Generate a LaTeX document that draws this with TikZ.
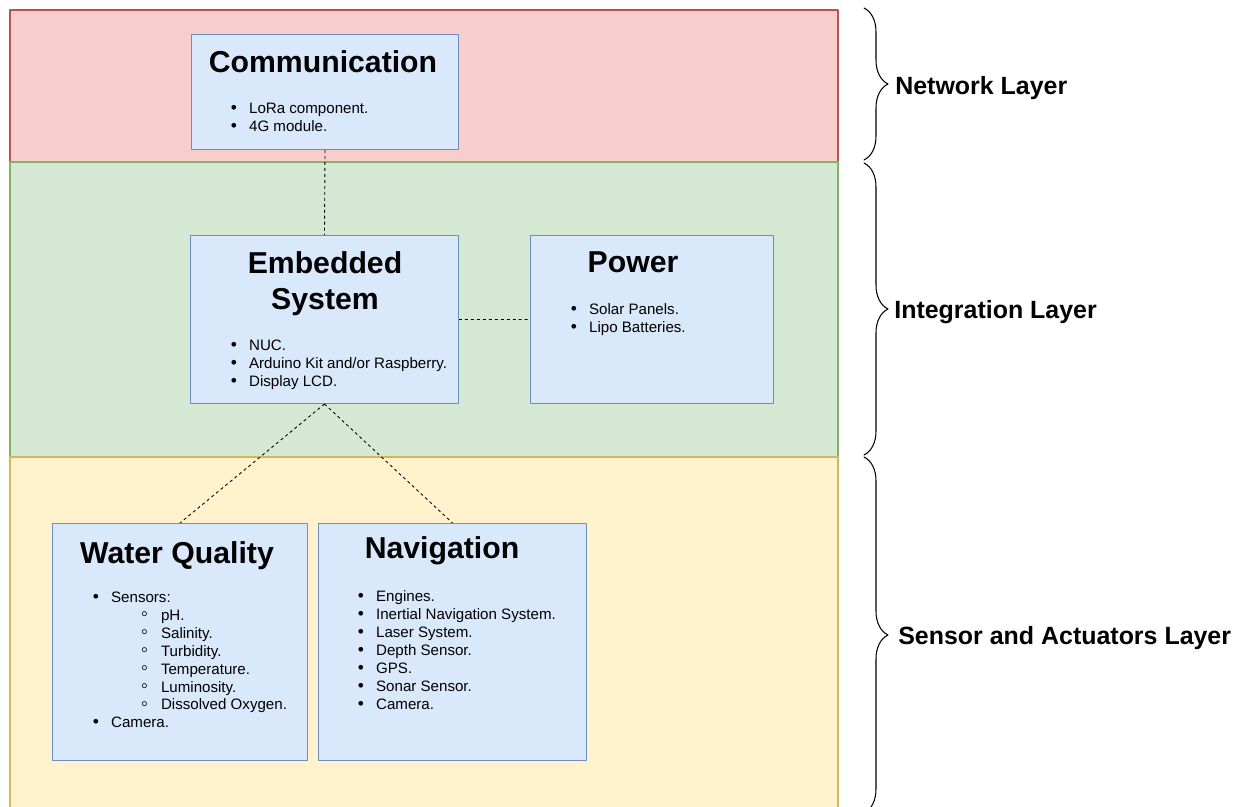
\documentclass[tikz,border=0pt]{standalone}
\usepackage{fontspec}
\setmainfont{Liberation Sans}
\usetikzlibrary{decorations.pathreplacing}
\definecolor{netfill}{HTML}{F8CECC}
\definecolor{netdraw}{HTML}{B85450}
\definecolor{intfill}{HTML}{D5E8D4}
\definecolor{intdraw}{HTML}{82B366}
\definecolor{senfill}{HTML}{FFF2CC}
\definecolor{sendraw}{HTML}{D6B656}
\definecolor{boxfill}{HTML}{DAE8FC}
\definecolor{boxdraw}{HTML}{6C8EBF}
\newcommand{\bul}[1]{\makebox[10.4pt][l]{\scalebox{1.15}{•}}#1}
\newcommand{\subbul}[1]{\hspace*{27.4pt}\makebox[11.4pt][l]{\raisebox{-0.35pt}{\scalebox{1.35}{◦}}}#1}
\begin{document}
\begin{tikzpicture}
			[x=0.02cm, y=-0.02cm, line join=round, line cap=round,
			band/.style={line width=0.6pt},
			unit/.style={draw=boxdraw, fill=boxfill, line width=0.6pt, anchor=north west, inner sep=0},
			title/.style={font=\fontsize{17.2}{20.4}\selectfont\bfseries, inner sep=0, align=center},
			items/.style={font=\fontsize{8.6}{10.2}\selectfont, inner sep=0, align=left, anchor=north west},
			layer/.style={font=\fontsize{14.2}{17}\selectfont\bfseries, inner sep=0, anchor=base west},
			link/.style={dashed, dash pattern=on 1.7pt off 1.7pt, line width=0.5pt, line cap=butt},
			bracket/.style={decorate, decoration={brace, amplitude=0.48cm}, line width=0.6pt}]
			\useasboundingbox (0,0) rectangle (1245,807);
			\draw[band, draw=netdraw, fill=netfill] (10,10) rectangle (838,162);
			\draw[band, draw=intdraw, fill=intfill] (10,162) rectangle (838,457);
			\draw[band, draw=sendraw, fill=senfill] (10,457) rectangle (838,815);
			\node[unit, minimum width=5.34cm, minimum height=2.3cm] (comm) at (191,34) {};
			\node[unit, minimum width=5.36cm, minimum height=3.36cm] (emb) at (190,235) {};
			\node[unit, minimum width=4.86cm, minimum height=3.36cm] (pow) at (530,235) {};
			\node[unit, minimum width=5.1cm, minimum height=4.74cm] (wq) at (52,523) {};
			\node[unit, minimum width=5.36cm, minimum height=4.74cm] (nav) at (318,523) {};
			\draw[link] (comm.south)--(emb.north) (emb.east)--(pow.west)
			(emb.south)--(wq.north) (emb.south)--(nav.north);
			\node[title, anchor=base] (commt) at (323,73) {Communication};
			\node[title] (embt) at (325,284) {Embedded\\System};
			\node[title, anchor=base] (powt) at (633,273) {Power};
			\node[title, anchor=base] (wqt) at (177,563) {Water Quality};
			\node[title, anchor=base] (navt) at (442,559) {Navigation};
			\node[items] (commi) at (230.5,102.5) {\bul{LoRa component.}\\\bul{4G module.}};
			\node[items] (embi) at (230.5,339.5) {\bul{NUC.}\\\bul{Arduino Kit and/or Raspberry.}\\\bul{Display LCD.}};
			\node[items] (powi) at (570.5,303.5) {\bul{Solar Panels.}\\\bul{Lipo Batteries.}};
			\node[items] (wqi) at (92.5,591.5) {\bul{Sensors:}\\\subbul{pH.}\\\subbul{Salinity.}\\\subbul{Turbidity.}\\
			\subbul{Temperature.}\\\subbul{Luminosity.}\\\subbul{Dissolved Oxygen.}\\\bul{Camera.}};
			\node[items] (navi) at (357.5,590.5) {\bul{Engines.}\\\bul{Inertial Navigation System.}\\\bul{Laser System.}\\
			\bul{Depth Sensor.}\\\bul{GPS.}\\\bul{Sonar Sensor.}\\\bul{Camera.}};
			\draw[bracket] (864,8)--(864,160);
			\draw[bracket] (864,163)--(864,455);
			\draw[bracket] (864,457)--(864,813);
			\node[layer] (netl) at (895,95) {Network Layer};
			\node[layer] (intl) at (894,319) {Integration Layer};
			\node[layer] (senl) at (898,644) {Sensor and Actuators Layer};
		\end{tikzpicture}
\end{document}
